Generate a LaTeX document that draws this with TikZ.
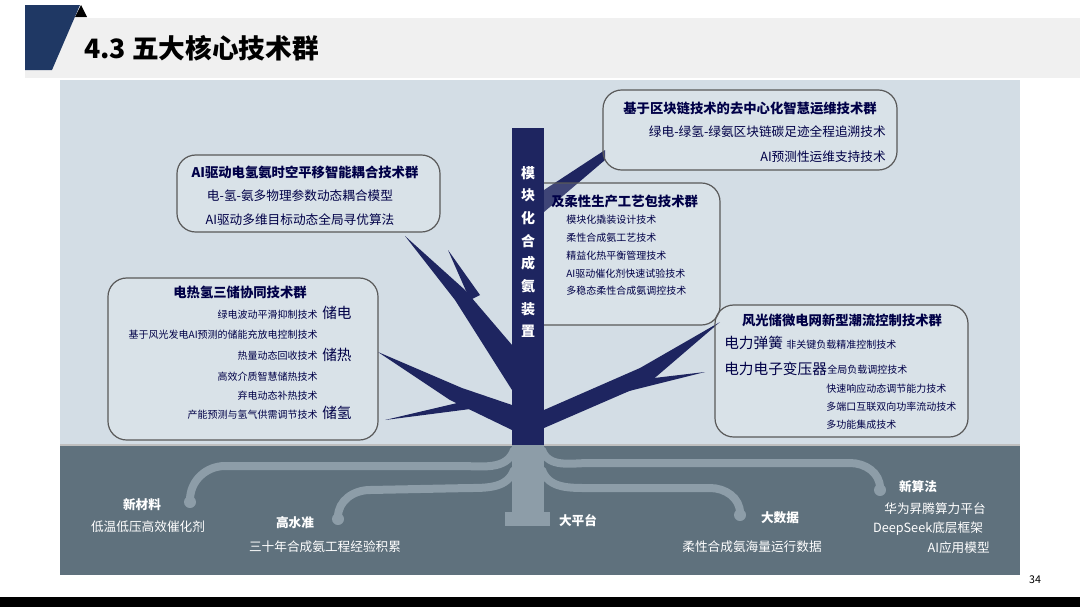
\documentclass[tikz,border=0pt]{standalone}
\usepackage{fontspec}
\setmainfont{Noto Sans CJK SC}
\begin{document}
\begin{tikzpicture}[x=0.75pt,y=-0.75pt,
  grp/.style={draw=black!65,line width=0.9pt,rounded corners=14pt,fill=white,fill opacity=0.15},
  ttl/.style={font=\fontsize{10}{12}\selectfont\bfseries,text=black!30!blue!40!black},
  itm/.style={font=\fontsize{9.5}{11}\selectfont,text=black!30!blue!40!black},
  sm/.style={font=\fontsize{7.5}{9}\selectfont,text=black!30!blue!40!black},
  big/.style={font=\fontsize{11}{13}\selectfont,text=black!30!blue!40!black},
  wt/.style={font=\fontsize{9.5}{11}\selectfont,text=white},
  wb/.style={font=\fontsize{9.5}{11}\selectfont\bfseries,text=white},
  root/.style={draw=rootc,line width=6pt,line cap=round},
  inner sep=0pt]
\definecolor{navy}{HTML}{1E2560}
\definecolor{hdr}{HTML}{1F3864}
\definecolor{sky}{HTML}{D3DDE5}
\definecolor{slate}{HTML}{5F717D}
\definecolor{rootc}{HTML}{8D9DA8}
\useasboundingbox (0,0) rectangle (1080,607);
\fill[white] (0,0) rectangle (1080,607);
% header
\fill[black!6] (25,18) rectangle (1080,78);
\fill[hdr] (25,5) -- (80,5) -- (52,70) -- (25,70) -- cycle;
\fill[black] (75,17) -- (81,5) -- (87,17) -- cycle;
\node[anchor=west,font=\fontsize{20}{24}\selectfont\bfseries] (title) at (84,48) {4.3 五大核心技术群};
% panels
\fill[sky] (60,80) rectangle (1020,445);
\fill[slate] (60,445) rectangle (1020,575);
\draw[black!25,line width=1pt] (60,445) -- (1020,445);
\fill[black] (0,597) rectangle (1080,607);
\node[font=\fontsize{8}{9}\selectfont] (pg) at (1035,580) {34};
% roots
\fill[rootc] (512,445) rectangle (544,520);
\fill[rootc] (505,512) rectangle (550,526);
\draw[root] (514,450) to[out=250,in=0] (460,466) -- (225,466) to[out=180,in=90] (190,500);
\draw[root] (514,470) to[out=250,in=0] (470,488) -- (370,490) to[out=180,in=90] (338,517);
\draw[root] (542,470) to[out=290,in=180] (590,488) -- (710,488) to[out=0,in=90] (740,513);
\draw[root] (542,450) to[out=290,in=180] (590,463) -- (850,463) to[out=0,in=90] (880,488);
\foreach \p in {(190,502),(338,519),(740,515),(880,490)} \fill[rootc] \p circle (6);
% tree
\fill[navy] (512,128) rectangle (544,445);
\fill[navy] (544,190) -- (605,150) -- (605,160) -- (544,212) -- cycle;
\fill[navy] (512,390) -- (455,300) -- (405,236) -- (465,290) -- (512,345) -- cycle;
\fill[navy] (470,300) -- (448,250) -- (480,295) -- cycle;
\fill[navy] (512,430) -- (450,400) -- (378,352) -- (462,388) -- (512,405) -- cycle;
\fill[navy] (470,400) -- (385,420) -- (478,408) -- cycle;
\fill[navy] (544,410) -- (640,368) -- (720,322) -- (650,382) -- (544,428) -- cycle;
\fill[navy] (620,382) -- (705,372) -- (625,392) -- cycle;
% boxes
\draw[grp] (603,90) rectangle (897,170);
\draw[grp] (177,155) rectangle (440,232);
\draw[grp] (517,183) rectangle (720,325);
\draw[grp] (108,278) rectangle (378,440);
\draw[grp] (715,305) rectangle (968,437);
\fill[navy] (512,180) rectangle (544,330);
\node[font=\fontsize{10.5}{17}\selectfont\bfseries,text=white,align=center] (trunk) at (528,252) {模\\块\\化\\合\\成\\氨\\装\\置};
% top right
\node[ttl] (t1) at (750,108) {基于区块链技术的去中心化智慧运维技术群};
\node[itm,anchor=east] (t1a) at (886,132) {绿电-绿氢-绿氨区块链碳足迹全程追溯技术};
\node[itm,anchor=east] (t1b) at (886,157) {AI预测性运维支持技术};
% left top
\node[ttl] (t2) at (305,172) {AI驱动电氢氨时空平移智能耦合技术群};
\node[itm] (t2a) at (300,196) {电-氢-氨多物理参数动态耦合模型};
\node[itm] (t2b) at (300,220) {AI驱动多维目标动态全局寻优算法};
% center
\node[ttl,anchor=west] (t3) at (551,201) {及柔性生产工艺包技术群};
\foreach \t [count=\i] in {模块化撬装设计技术,柔性合成氨工艺技术,精益化热平衡管理技术,AI驱动催化剂快速试验技术,多稳态柔性合成氨调控技术}
  \node[sm,anchor=west] (t3\i) at (566,202+17.8*\i) {\t};
% left middle
\node[ttl] (t4) at (240,292) {电热氢三储协同技术群};
\node[sm,anchor=east] (t4a) at (318,315) {绿电波动平滑抑制技术};
\node[big,anchor=west] (t4A) at (322,313) {储电};
\node[sm,anchor=east] (t4b) at (318,335) {基于风光发电AI预测的储能充放电控制技术};
\node[sm,anchor=east] (t4c) at (318,356) {热量动态回收技术};
\node[big,anchor=west] (t4C) at (322,355) {储热};
\node[sm,anchor=east] (t4d) at (318,377) {高效介质智慧储热技术};
\node[sm,anchor=east] (t4e) at (318,396) {弃电动态补热技术};
\node[sm,anchor=east] (t4f) at (318,415) {产能预测与氢气供需调节技术};
\node[big,anchor=west] (t4F) at (322,413) {储氢};
% right
\node[ttl] (t5) at (842,320) {风光储微电网新型潮流控制技术群};
\node[big,anchor=west] (t5a) at (724,343) {电力弹簧};
\node[sm,anchor=west] (t5aa) at (786,345) {非关键负载精准控制技术};
\node[big,anchor=west] (t5b) at (724,369) {电力电子变压器};
\node[sm,anchor=west] (t5bb) at (827,370) {全局负载调控技术};
\node[sm,anchor=west] (t5c) at (826,389) {快速响应动态调节能力技术};
\node[sm,anchor=west] (t5d) at (826,407) {多端口互联双向功率流动技术};
\node[sm,anchor=west] (t5e) at (826,425) {多功能集成技术};
% bottom labels
\node[wb] (b1) at (142,505) {新材料};
\node[wt] (b1a) at (148,527) {低温低压高效催化剂};
\node[wb] (b2) at (295,523) {高水准};
\node[wt] (b2a) at (325,547) {三十年合成氨工程经验积累};
\node[wb] (b3) at (578,521) {大平台};
\node[wb] (b4) at (780,518) {大数据};
\node[wt] (b4a) at (752,547) {柔性合成氨海量运行数据};
\node[wb] (b5) at (918,487) {新算法};
\node[wt] (b5a) at (935,509) {华为昇腾算力平台};
\node[wt] (b5b) at (928,529) {DeepSeek底层框架};
\node[wt,anchor=east] (b5c) at (990,548) {AI应用模型};
\end{tikzpicture}
\end{document}
